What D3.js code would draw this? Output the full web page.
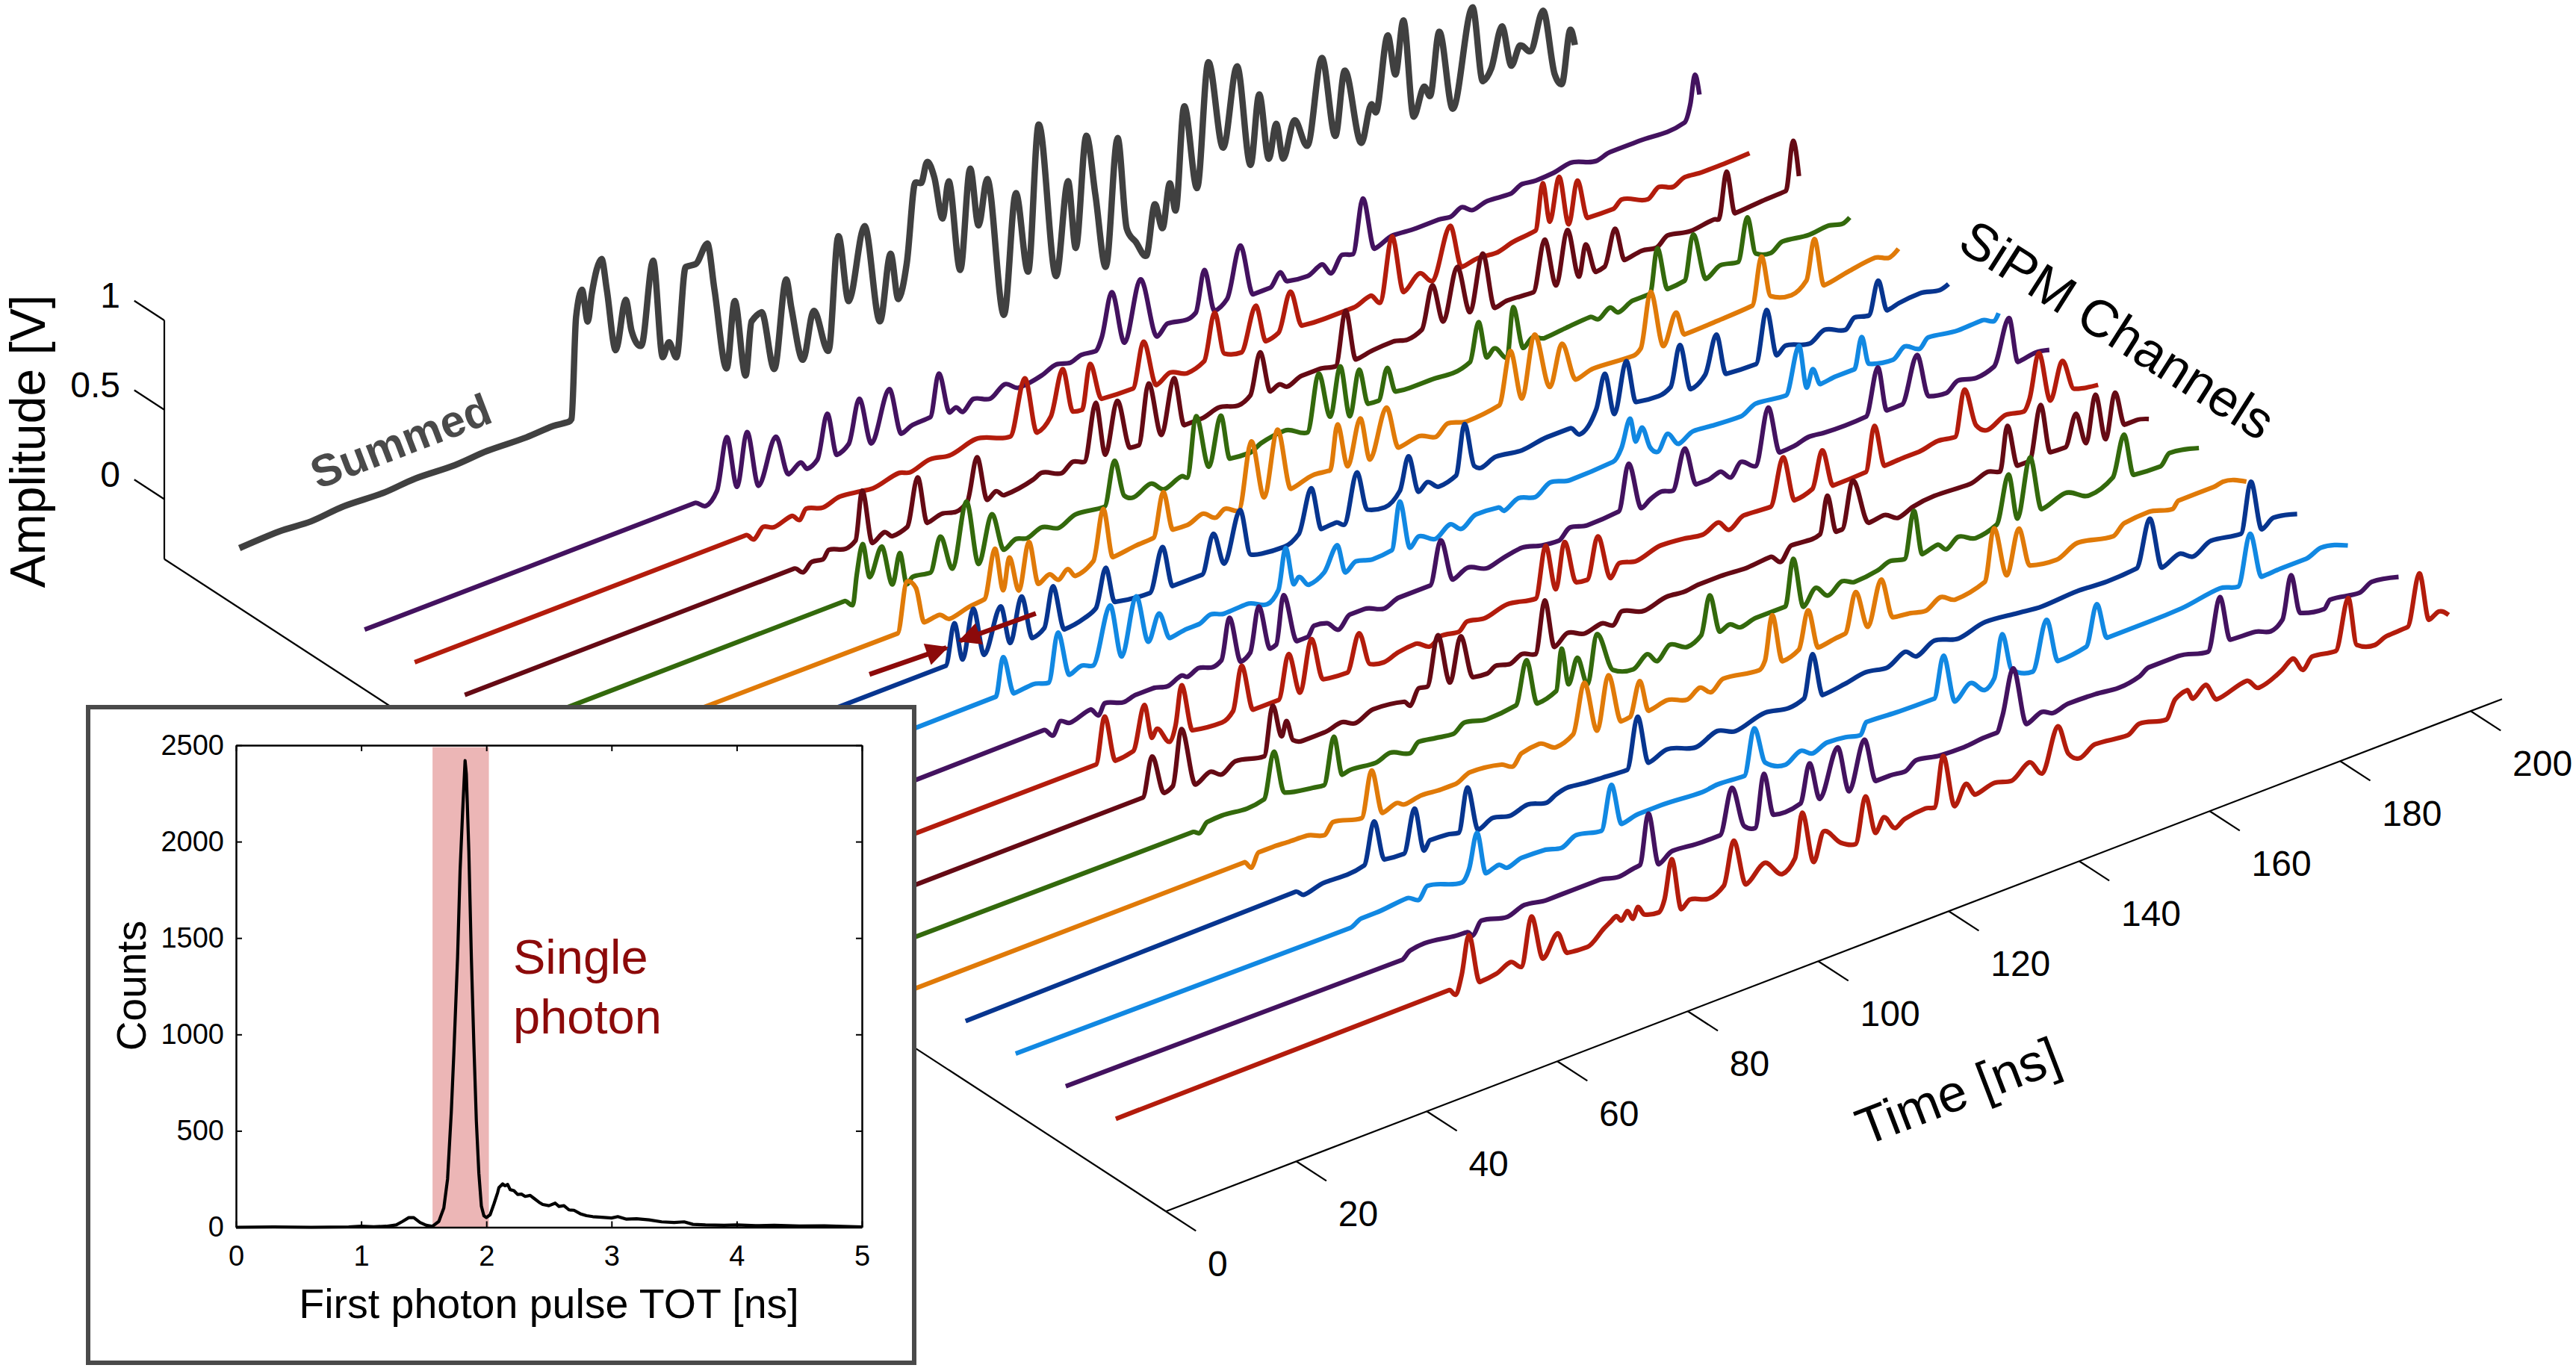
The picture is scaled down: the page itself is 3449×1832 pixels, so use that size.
<!DOCTYPE html>
<html>
<head>
<meta charset="utf-8">
<title>SiPM channel waveforms</title>
<script src="https://cdn.jsdelivr.net/npm/d3@7/dist/d3.min.js"></script>
<style>
  html, body { margin: 0; padding: 0; background: #fff; }
  svg { display: block; }
  text { font-family: "Liberation Sans", Arial, sans-serif; fill: #000; }
</style>
</head>
<body>
<svg id="chart" width="3449" height="1832"></svg>
<script>
// Waveform knots are [time in ns, amplitude in V].
const summed = [[0,0],[6,.008],[11,-.004],[16,.01],[22,0],[27,.012],[33,.002],[38,.012],[44,.004],[48,.01],[50.5,0],[50.9,.01],[51.6,.57],[52.5,.71],[53.4,.52],[54,.665],[55.5,.84],[56.3,.66],[57.7,.3],[59.2,.56],[60.1,.375],[61.6,.27],[63.4,.72],[64.9,.16],[65.8,.23],[67,.13],[68.4,.615],[69.9,.61],[71.7,.7],[72.8,.43],[74.7,-.04],[75.9,.32],[77.6,-.12],[78.5,.17],[80,.2],[82,-.145],[83.8,.33],[84.6,.16],[86.4,-.155],[88,.095],[90.3,-.16],[91.8,.46],[93.4,.075],[95.8,.46],[98.2,-.105],[99.8,.25],[101,-.02],[102.3,.165],[103.6,.595],[104.5,.58],[105.4,.685],[106.5,.585],[107.8,.335],[108.7,.53],[110.5,.01],[112,.555],[113.3,.22],[114.6,.46],[117.2,-.335],[119,.32],[120.9,-.145],[122.5,.655],[125.2,-.23],[127,.275],[128.2,-.115],[129.8,.49],[131.2,.14],[132.8,-.285],[134.6,.41],[136,-.115],[137.4,-.21],[139,-.31],[140.3,-.04],[141.5,-.19],[142.6,.045],[143.5,-.12],[144.8,.445],[146.8,-.04],[148.5,.64],[150.8,.13],[152.9,.555],[155,-.025],[156.3,.35],[157.8,-.03],[158.9,.15],[160,-.06],[161.7,.13],[163.7,-.04],[165.9,.42],[168,-.045],[169.4,.3],[172,-.14],[173.5,.055],[174.2,0],[176,.405],[177.2,.17],[178.4,.455],[180,-.105],[181.6,.04],[182.5,-.025],[183.9,.315],[186,-.145],[189,.38],[190.6,-.055],[191.9,0],[193.5,.21],[195,-.03],[196.3,.065],[197.9,.01],[199.8,.21],[201.6,-.17],[202.7,-.24],[204,.045],[204.7,-.05]];
const ch01 = [[0,0],[50.6,0],[52.3,-.04],[54,.02],[55.5,.3],[57.1,0],[58.6,.285],[60.4,-.04],[63,.197],[65,-.04],[66.8,0],[67.9,-.05],[69.4,-.02],[70.9,.215],[72.4,-.035],[74.2,0],[75.8,.23],[77.7,-.045],[80.4,.22],[82.3,-.055],[84,-.03],[86.7,-.025],[88,.2],[89.7,-.04],[90.6,-.025],[91.7,-.065],[93.3,-.015],[95.9,-.05],[98.1,0],[100.3,-.05],[103.8,-.03],[106,0],[108.2,-.02],[109.9,0],[112,-.01],[113,.055],[114.5,.285],[116.5,-.025],[118.9,.295],[121.5,-.06],[123.1,-.01],[126.1,-.03],[127.4,-.01],[128.7,.21],[130.3,-.04],[132.2,0],[134.2,.27],[136.2,-.03],[138.8,-.03],[140.3,.035],[141.4,-.03],[144.5,-.045],[146.7,-.01],[148.2,-.08],[149.8,0],[151.5,-.02],[153,.27],[154.8,-.035],[157.6,0],[161.2,-.01],[164.6,-.01],[166.4,-.02],[168.1,.01],[169.9,-.03],[172.1,-.01],[175.6,-.02],[177.4,.01],[179.5,0],[182.2,.005],[184.8,.025],[188.8,-.02],[190.9,0],[193.6,0],[195.3,0],[199.7,-.01],[202.3,.005],[203.2,.095],[203.9,.25],[204.6,.13]];
const ch02 = [[0,0],[50.8,0],[52,-.04],[53.4,.01],[55.1,-.015],[57.8,.01],[59,-.03],[60,.02],[62.6,-.01],[65.2,.015],[68.3,0],[70.2,-.01],[74.2,.02],[75.9,0],[79,.03],[82,.01],[86,.045],[91.3,-.015],[93.5,.28],[95.4,-.05],[97.5,.01],[99.3,.25],[100.9,-.01],[102.3,-.02],[103.5,.22],[105.3,0],[110.1,-.01],[111.7,.23],[113.7,-.04],[115.8,0],[118.4,-.04],[121,-.01],[122.6,.24],[124.1,-.01],[126.7,-.04],[128.9,.19],[130.5,-.03],[132.4,-.01],[134.2,.195],[136,-.02],[139.5,-.03],[143.9,-.03],[146.5,0],[148,-.06],[149.8,.285],[151.6,-.05],[154,.02],[156,-.05],[158.7,.22],[160.5,-.035],[163,-.02],[165.7,-.03],[168.3,-.005],[171.8,.01],[172.9,.26],[174,.03],[175.4,.26],[176.9,-.025],[178.2,.2],[179.8,-.03],[183.7,-.035],[185,0],[189,-.055],[190.7,-.01],[192.9,-.04],[194.7,-.01],[197.4,-.02],[199.8,-.02],[204.6,-.015]];
const ch03 = [[0,0],[50.5,0],[51.9,-.04],[53.2,0],[54.9,-.01],[55.8,.03],[58.4,0],[59.9,.025],[60.9,.29],[62.5,-.025],[64.3,.01],[65.6,-.03],[67.8,-.01],[69.4,.245],[70.9,-.03],[73.1,-.01],[75.3,-.03],[77,0],[78.5,.23],[80.1,-.03],[81.4,0],[82.7,-.04],[87.1,-.015],[88.4,.005],[91.5,-.04],[93.2,0],[95,-.025],[96.7,.28],[98.2,-.03],[100,.245],[102,-.045],[103.3,-.05],[104.8,.275],[106.8,-.04],[108.7,.25],[110.3,-.035],[112.9,-.035],[115.6,-.01],[118.6,-.04],[120.4,-.01],[121.9,.21],[123.5,-.03],[124.8,-.01],[126.1,-.04],[128.3,-.01],[131,-.01],[133.5,-.03],[135,.26],[136.6,-.035],[139.2,-.02],[142.3,-.015],[144.5,-.035],[146.7,-.01],[148.3,.215],[150,-.01],[152.1,.265],[154.1,-.015],[156,.285],[157.9,-.045],[159.8,-.03],[163.8,-.04],[165.5,.23],[167.3,-.05],[169,.235],[170.8,-.05],[171.8,.115],[173.4,-.06],[174.7,-.05],[176.3,.14],[177.8,-.055],[180.4,-.04],[182.6,-.055],[184.4,-.01],[187.9,-.035],[191.5,-.02],[192.2,-.03],[193.4,.22],[194.7,-.03],[198.8,-.02],[202.5,-.015],[203.6,.25],[204.5,.04]];
const ch04 = [[0,0],[50.5,0],[51.8,-.04],[52.4,.12],[53.3,.28],[54.4,.08],[56.2,.225],[57.9,-.01],[59,.15],[60.1,-.04],[61,-.01],[63.7,-.025],[65.2,.155],[67.1,-.05],[69.2,.295],[71.1,-.08],[73.1,.17],[75,-.055],[76.8,-.02],[78.5,-.04],[80.7,-.01],[83.4,-.05],[86,-.01],[90.4,-.03],[91.9,.205],[93.4,-.01],[94.8,-.04],[97.4,0],[99.6,-.06],[102.2,-.025],[103.1,-.045],[104.4,.28],[106.4,-.03],[108.2,.23],[109.6,-.03],[112.7,-.04],[114.4,-.01],[118,.01],[121.5,-.05],[123.2,.255],[125,-.01],[126.5,.25],[128,-.05],[129.4,.19],[130.8,-.02],[132.4,-.025],[133.7,.14],[135,-.01],[137.2,-.02],[140.3,-.02],[143.8,-.03],[146.4,-.005],[147.7,.2],[149,-.015],[150.1,.02],[152.1,-.06],[153,.21],[154.6,-.04],[156,0],[157.8,-.03],[160.9,-.02],[164.8,-.01],[166.1,-.04],[167.8,0],[169.2,-.045],[171.4,-.01],[174,-.01],[175.1,.23],[176.7,-.02],[179.3,-.01],[180.6,.23],[182.6,-.045],[184.8,0],[187.5,-.02],[188.9,.21],[190.2,-.01],[192.5,-.04],[194.3,0],[198.4,-.02],[201.2,-.01],[203.5,-.03],[204.6,-.01]];
const ch05 = [[0,0],[51,-.005],[52.4,.265],[53.8,.21],[55.1,0],[57.3,.01],[59,-.035],[61.9,-.01],[64.3,0],[65.9,.26],[67.2,.01],[68.1,.18],[69.6,-.025],[71.1,.225],[72.6,-.03],[74.2,0],[75.7,-.05],[77,-.01],[78.3,-.065],[81,-.02],[82.5,.25],[84,-.04],[87.5,-.025],[90.2,-.02],[91.7,.215],[93.2,-.015],[95.4,-.02],[97.7,.01],[99.8,-.04],[101.1,-.01],[103.3,-.05],[105.2,.31],[107.2,-.03],[109.2,.32],[111.3,-.04],[114.7,-.01],[117.3,-.02],[118.4,.22],[120,-.035],[121.9,.205],[123.4,-.045],[125.9,.21],[127.8,-.04],[130.9,-.02],[133.5,-.06],[135.3,-.01],[138.3,-.04],[143.2,-.02],[144.9,.26],[146.7,-.03],[148.6,.3],[151,-.025],[152.8,.19],[155,-.04],[157.6,-.015],[163.8,-.03],[164.9,-.005],[166.4,.29],[168.4,-.04],[170.3,.12],[171.6,-.02],[176.6,-.015],[182,-.005],[183.4,.25],[184.8,.01],[188,-.03],[190.3,.02],[191.5,.235],[193,-.045],[196.7,-.02],[200.8,0],[203,-.03],[204.4,0]];
const ch06 = [[0,0],[50.7,0],[52,.22],[53.3,0],[54.9,.26],[56.6,-.02],[59.1,.215],[60.6,-.01],[62.3,.225],[64,-.03],[65.8,0],[67.1,.215],[68.9,-.05],[72,-.03],[73.7,0],[75.2,.205],[76.6,-.005],[82,-.03],[83.9,.2],[85.5,-.04],[90,-.04],[91.7,.165],[93.4,-.025],[95.8,.24],[97.4,-.03],[99.1,-.05],[102.6,-.06],[104.8,-.02],[106.7,.21],[108.3,-.04],[110.5,-.035],[111.8,-.065],[113.7,.2],[115.3,-.03],[118,-.055],[120.3,.005],[121.6,.18],[123.2,-.04],[124.5,-.005],[126.3,-.055],[128.9,-.03],[130.2,.24],[131.7,-.015],[132.8,-.04],[135,-.01],[139,-.03],[142.9,-.01],[146.4,-.01],[147.9,-.065],[150.4,.04],[151.7,.22],[153.2,-.025],[155,.245],[156.5,-.005],[160,-.02],[161.8,.005],[163.2,.22],[164.9,-.05],[167.1,0],[168.8,.2],[170.3,-.04],[174.9,-.05],[176.5,.23],[178.1,-.045],[179.4,-.01],[183.1,-.05],[185.4,-.005],[188.6,-.05],[190,0],[192.2,-.02],[193.6,.155],[195,-.03],[196.8,-.015],[200,-.005],[203.1,-.03],[204.4,-.015]];
const ch07 = [[0,0],[50.7,.01],[51.8,.215],[53.5,-.01],[56.4,0],[58.8,-.025],[60.2,.235],[62,-.025],[63.8,0],[65.6,-.025],[68.2,.275],[70,-.035],[72.2,.27],[74.1,-.01],[75.7,.125],[77.4,-.035],[80,-.02],[81.8,-.02],[83.6,.01],[85.7,-.015],[89.2,-.01],[92.3,-.055],[94,0],[95.1,.22],[96.4,0],[97.1,.03],[98.7,-.035],[101,0],[103,.125],[104.3,-.045],[105.9,-.005],[108.5,-.03],[111.4,-.02],[112.6,.235],[114.2,-.045],[115.5,0],[118.1,-.05],[120.3,0],[122.1,-.05],[124.3,0],[127.8,-.01],[128.6,-.04],[130.8,0],[133.4,-.03],[135.7,.02],[138.7,-.01],[145.3,0],[146.6,.06],[147.9,.205],[148.8,.065],[149.7,.13],[151,0],[152.2,-.04],[153.6,.04],[155.4,-.04],[157.6,0],[160.4,-.01],[164.9,-.02],[167.2,.02],[171.8,0],[173.8,.25],[175,0],[175.9,.09],[177.1,-.01],[179.5,0],[182.3,0],[183.4,.165],[184.5,0],[188.2,-.03],[190,.02],[192.3,-.025],[193.6,.02],[198.2,-.005],[201.9,0],[203.7,-.03],[204.4,.005]];
const ch08 = [[0,0],[50.4,.01],[51.8,-.04],[52.9,.025],[54.4,-.005],[57.5,.025],[58.8,-.025],[59.7,.03],[62.7,-.005],[64.5,.01],[67.1,.01],[69.3,-.01],[71.5,.02],[72.4,0],[74.1,.025],[76.3,0],[77.6,.02],[78.8,.24],[80.6,-.03],[82,0],[83.3,.24],[85.1,-.02],[86,-.01],[87.1,.25],[89.2,-.035],[90.8,-.035],[91.8,.015],[93.8,0],[95.6,-.06],[97.3,0],[99.5,0],[102.6,-.04],[104.8,-.01],[109.6,-.01],[111.2,.22],[113.1,-.025],[115.3,.01],[118.4,-.035],[120.5,-.015],[123.6,.005],[126.7,-.025],[129.3,-.035],[131,.015],[133.7,-.01],[138.5,0],[140,.245],[142,-.03],[143.3,0],[145,.02],[146.8,0],[148.6,.21],[150.4,-.015],[152.2,-.015],[154,.005],[155.7,-.05],[157.2,.015],[159.5,-.04],[161.4,.26],[163.2,-.015],[165.4,-.01],[167.7,.01],[170,0],[173.2,-.005],[176.4,0],[178.2,.25],[179.6,-.01],[181.9,-.01],[184.2,.235],[186,-.02],[188.7,-.04],[190.5,.005],[193.3,-.02],[196,.005],[198.3,.245],[199.7,-.02],[202.4,-.005],[204.5,-.02]];
const ch09 = [[0,0],[50.7,-.005],[52,.245],[53.7,-.025],[56.4,-.01],[58.1,.225],[59.3,.025],[60,.065],[62,-.035],[62.9,.045],[63.8,.255],[65.5,-.02],[70,-.04],[71.7,0],[73,.235],[74.8,-.035],[78.7,-.035],[80.2,.2],[82,-.04],[83.7,.235],[85.5,-.015],[89.2,-.03],[91,.165],[92.7,-.03],[94.8,-.05],[97,-.025],[99.7,-.015],[101.9,-.06],[103.7,-.025],[106.3,-.04],[107.6,0],[110.2,-.02],[113.7,.01],[118.1,-.02],[119.6,.255],[121.2,-.01],[122.5,.235],[124.3,-.015],[126,-.025],[127.6,.195],[129.6,-.065],[130.9,0],[133.5,-.025],[137.3,.01],[140.5,0],[143.7,-.02],[146,.015],[147.8,-.05],[150,0],[154.1,-.01],[156,.24],[157.8,-.025],[160.5,0],[162,.195],[163.7,-.025],[168.7,-.02],[170,.22],[171.6,-.025],[174.7,-.02],[176.9,-.02],[179.7,0],[182.4,-.015],[183.8,.23],[185.6,.005],[187.4,-.045],[190.2,0],[192.9,-.02],[193.8,.04],[195.2,.275],[197,-.015],[198.8,.18],[200.6,0],[204.3,-.03]];
const ch10 = [[0,0],[50.2,0],[51.6,.21],[53.5,-.02],[54.8,0],[56.1,.3],[58.3,-.04],[60.5,0],[62.3,-.04],[64.4,.005],[68.8,-.03],[70.1,.235],[71.5,.045],[72.2,.12],[73.2,0],[74.7,-.025],[78,-.025],[80.6,-.005],[82.8,-.04],[85.5,0],[90.3,-.025],[91.2,-.06],[92.5,.02],[93.8,.01],[95.4,.275],[97.3,-.015],[98.9,.22],[100.8,-.035],[103,-.045],[104.3,-.02],[106.5,-.04],[108.3,-.01],[110.4,-.04],[111.8,.24],[113.3,-.04],[115.3,.01],[118,-.03],[120.5,-.01],[122.3,-.045],[123.6,.015],[127,-.03],[130.6,0],[133.2,-.01],[135.5,0],[138.7,0],[142.8,-.01],[146.4,0],[148,-.05],[149.6,.02],[152.8,.01],[154,.02],[155.1,.22],[156.5,0],[157.4,0],[159,.25],[161.5,-.02],[163.8,-.01],[166,-.055],[168.3,-.025],[171.5,-.01],[177,-.02],[179.7,.01],[181.6,-.015],[182.7,.225],[184.3,-.02],[186.1,-.02],[187.8,.27],[189.3,-.015],[191.6,-.02],[193.2,.145],[194.8,-.04],[196.2,.21],[197.8,-.06],[199.2,.18],[200.7,-.02],[202.5,-.02],[204.4,-.04]];
const ch11 = [[0,0],[50.2,-.01],[51.2,-.03],[52.4,.015],[54.6,.02],[58.5,.005],[61.1,.02],[62.6,.265],[64.2,.015],[68.6,-.02],[70.3,-.03],[71.8,.22],[73.1,-.01],[74.3,0],[78.2,-.015],[80.4,.01],[83.5,-.035],[84.8,.01],[87.4,-.005],[90.1,-.02],[91.8,.02],[95.3,-.01],[99.7,.005],[101.3,.235],[103,-.03],[105.9,0],[106.7,.225],[107.8,.01],[109.1,.14],[110.7,-.03],[112.1,.23],[114.6,-.005],[117.7,-.045],[119.8,.01],[121.4,-.05],[123.3,.015],[126,-.035],[128.1,0],[129.4,.205],[131,-.02],[132.4,0],[134.2,-.04],[136.5,-.02],[139.2,-.02],[141,-.02],[142.2,.23],[143.8,-.06],[145.6,.02],[147.6,-.05],[149.7,0],[151.6,-.03],[155.2,-.015],[157,.01],[159.3,-.01],[160.7,.24],[162,-.02],[164.3,0],[165.7,-.045],[167.5,0],[170.2,-.045],[173.4,-.015],[175.2,.24],[176.6,-.025],[178.5,.29],[180.3,-.025],[183.9,.015],[187.6,-.05],[191.2,0],[192.9,.215],[194.4,-.03],[198.5,-.04],[199.9,.015],[204.4,-.02]];
const ch12 = [[0,0],[50.4,0],[51.5,-.045],[52.6,.025],[54.8,.025],[57,.02],[60,.015],[62.7,-.02],[64,.035],[68.4,-.005],[69.9,.24],[71.6,-.02],[73.7,.005],[75,-.02],[77.6,-.005],[80.6,-.015],[82.8,-.015],[85,.02],[89.8,-.005],[91.6,-.04],[92.9,.015],[95.6,.03],[98.2,-.025],[100.8,.01],[102.5,.275],[104.5,-.02],[106.2,.265],[108.2,-.02],[109.5,-.015],[111,.165],[112.4,-.02],[115.2,0],[118.3,-.04],[120.2,0],[122,-.05],[123.8,0],[129.3,-.03],[130.2,.01],[131.3,.25],[132.9,-.03],[135.4,0],[136.8,.2],[138.4,-.03],[141.1,-.015],[142.5,-.01],[144.1,.2],[146,-.02],[148,.215],[149.8,-.02],[152.5,-.035],[154.8,-.055],[157.1,-.01],[159.4,-.055],[163.9,-.02],[165.3,.26],[167.3,-.03],[169.1,.205],[170.8,-.025],[174.9,-.05],[178.1,0],[183.6,-.04],[185.3,.01],[189,.02],[192.7,-.015],[193.6,.02],[199,.02],[200.4,.03],[204,-.02]];
const ch13 = [[0,0],[50.6,.015],[51.9,-.02],[55,.005],[58.5,0],[61.1,.015],[62.6,.24],[64.2,.005],[67.2,-.005],[68.8,.225],[70.3,-.03],[71.2,.015],[73.8,.01],[75.6,-.005],[76.9,.23],[78.6,-.03],[80.8,.005],[83.5,-.02],[86.1,.005],[89.1,-.025],[90.5,0],[92.2,.015],[94.4,.005],[97.5,-.005],[101.4,-.015],[103,.26],[104.7,-.02],[107.5,.015],[112,-.035],[115.2,.01],[118,-.03],[122.5,.01],[126.2,-.015],[128.5,.005],[129.8,.235],[131.4,-.015],[134.8,0],[138,.02],[141.2,0],[144,.05],[145.8,0],[148.5,.05],[152.2,.01],[156.3,.045],[161.3,.025],[165,.01],[170.4,.02],[175,.01],[179.5,.02],[181.5,.27],[183.4,-.03],[186,.01],[188.2,-.035],[190.9,.015],[195.5,-.01],[197,.26],[198.7,-.03],[200.5,.01],[204.1,-.02]];
const ch14 = [[0,0],[51.3,-.015],[53,.015],[55.2,.015],[60,.03],[61.8,-.005],[63.1,.055],[68.4,0],[69.5,.06],[70.7,.245],[72.1,0],[74,.02],[75.4,-.015],[77.6,.01],[81,.005],[83.7,-.02],[85.9,.02],[89.8,-.01],[91.3,.225],[92.9,-.015],[95.5,.005],[98.9,.005],[105.3,-.01],[107.6,0],[111.7,-.01],[113.2,.235],[114.9,.02],[118,-.035],[120.3,.01],[122.2,-.03],[124.4,0],[127.2,-.01],[129.5,-.03],[130.4,.03],[134.9,.02],[140.8,.015],[142.2,.235],[144,-.045],[146.3,.025],[148.6,-.045],[150,0],[151.2,.23],[152.7,.01],[155.9,-.045],[158,.215],[159.8,-.04],[164.1,-.02],[165.7,.195],[167.3,-.015],[173.7,-.015],[178.7,-.01],[184.6,.02],[187.4,-.01],[189.2,.26],[191,-.005],[194.2,0],[197.8,0],[200.1,.03],[204.2,-.015]];
const ch15 = [[0,0],[51.5,-.015],[52.8,.02],[55,.03],[59.8,.005],[61.6,0],[62.4,-.03],[63.7,.035],[67.7,0],[70.3,.03],[73.8,.01],[77.8,.01],[81.7,.01],[84.8,-.015],[87,0],[88,.005],[89.3,.275],[90.9,-.03],[93,.015],[97.6,0],[100.3,0],[102.1,.24],[104,0],[105.7,-.035],[107,.25],[108.5,0],[110.3,-.01],[112.6,.005],[114,.21],[115.6,-.01],[118.3,.24],[120.1,-.03],[122.4,.225],[124.2,-.03],[126.3,-.03],[128.6,-.04],[130.4,0],[134,-.025],[137.7,-.03],[140.9,-.02],[142.7,-.02],[143.6,.065],[145.2,.305],[147.3,-.035],[149.6,0],[151.4,-.03],[153.7,-.01],[157.8,-.015],[161.4,-.03],[164.6,-.01],[166,.02],[170.5,.02],[175.1,-.02],[176.9,.26],[178.5,0],[182.4,-.01],[184.7,-.04],[186.5,0],[187.8,.23],[189.2,0],[192.9,-.03],[193.8,.01],[198.3,-.015],[200.2,.02],[204.3,-.01]];
const ch16 = [[0,0],[51.1,.005],[52.1,-.035],[53,.06],[54.1,.27],[55.8,-.015],[58.3,-.005],[60.5,.03],[62.2,-.02],[63.7,.24],[65.5,-.02],[67.7,.09],[69.2,-.04],[72.3,-.05],[74.9,.02],[75.8,.04],[76.7,.06],[77.5,.025],[78.4,.065],[79.3,.01],[80,.065],[81,.01],[83.2,-.01],[84.1,.05],[85.2,.26],[86.7,-.04],[88,-.005],[90.9,-.04],[93.2,0],[94.7,.23],[96.6,-.04],[99.4,.04],[102.2,-.06],[104.1,0],[105.2,.24],[107,-.06],[108.5,.09],[111.1,-.01],[113.4,-.05],[114.9,.195],[116.5,-.03],[117.7,.04],[119.5,-.045],[120.9,-.015],[124.1,0],[125.5,-.015],[126.8,.255],[128.6,-.05],[130.3,.05],[131.8,-.03],[134.6,-.005],[137.3,-.03],[140,.035],[142,-.055],[144.4,.175],[146,0],[147.8,-.05],[150.1,-.005],[155.1,-.025],[156.9,.015],[161,-.02],[162.4,.075],[164.2,.1],[165.1,.04],[167,.09],[168.8,-.015],[173.3,.025],[175.2,-.04],[178.8,.01],[180.4,.05],[182,-.035],[183.4,.02],[187,0],[188.9,.27],[190.2,-.01],[193,-.05],[194.8,-.025],[198,-.02],[199.8,.255],[201.3,-.025],[202.8,0],[204.3,-.04]];

const waveforms = [ch01, ch02, ch03, ch04, ch05, ch06, ch07, ch08, ch09, ch10, ch11, ch12, ch13, ch14, ch15, ch16];
const waveformColors = ["#43125f", "#b31c0c", "#650a14", "#33690c", "#e07a08", "#07358f", "#1188e2", "#43125f", "#b31c0c", "#650a14", "#33690c", "#e07a08", "#07358f", "#1188e2", "#43125f", "#b31c0c"];
const firstChannelDepth = 4;
const summedDepth = 1.5;
const timeTicks = [0, 20, 40, 60, 80, 100, 120, 140, 160, 180, 200];
const ampTicks = [0, 0.5, 1];
const ampTickLabels = ["0", "0.5", "1"];
const floorAmp = -0.335;

// Highlighted pulse pair on the sixth channel: [time, amplitude] of arrow tail and head.
const arrowDepth = 9;
const arrows = [[[39, .116], [50.8, .10]], [[64.5, .10], [52.9, .11]]];

// Inset histogram of the first-photon time over threshold.
const totBins = [0,.3,.6,.9,1,1.1,1.2,1.28,1.33,1.38,1.42,1.47,1.52,1.57,1.62,1.66,1.69,1.72,1.74,1.77,1.79,1.81,1.83,1.84,1.86,1.88,1.9,1.92,1.94,1.96,1.98,2,2.03,2.06,2.09,2.1,2.13,2.15,2.17,2.19,2.22,2.25,2.28,2.31,2.35,2.38,2.42,2.45,2.5,2.55,2.58,2.62,2.66,2.7,2.75,2.8,2.85,2.92,3,3.05,3.12,3.2,3.3,3.4,3.5,3.58,3.65,3.75,3.9,4,4.15,4.3,4.5,4.7,4.85,5];
const totCounts = [0,2,0,2,5,3,5,12,30,50,50,25,10,5,30,100,250,600,900,1400,1850,2150,2420,2350,1950,1400,950,550,280,110,60,50,65,120,180,205,225,215,222,195,190,170,172,160,165,150,130,118,112,125,108,112,90,88,70,60,55,52,48,55,42,44,38,28,25,28,15,12,10,12,8,10,6,7,4,2];
const singlePhotonBand = [1.57, 2.02];
const countTicks = [0, 500, 1000, 1500, 2000, 2500];

const svg = d3.select("#chart");

// Oblique projection: time and channel depth shear the plane, amplitude lifts it.
const xOfTime = d3.scaleLinear().domain([0, 200]).range([0, 1747]);
const yOfTime = d3.scaleLinear().domain([0, 200]).range([0, -670]);
const xOfDepth = d3.scaleLinear().domain([0, 20]).range([220, 1561]);
const yOfDepth = d3.scaleLinear().domain([0, 20]).range([668.5, 1542]);
const yOfAmp = d3.scaleLinear().domain([0, 1]).range([0, -239.5]);
const project = (t, depth, amp) => [xOfTime(t) + xOfDepth(depth), yOfTime(t) + yOfDepth(depth) + yOfAmp(amp)];
const timeShear = (yOfTime(1) - yOfTime(0)) / (xOfTime(1) - xOfTime(0));

const axisLine = (a, b) => svg.append("line")
  .attr("x1", a[0]).attr("y1", a[1]).attr("x2", b[0]).attr("y2", b[1])
  .attr("stroke", "#000").attr("stroke-width", 2.2);

// Three-dimensional frame
axisLine(project(0, 0, 1), project(0, 0, floorAmp));
axisLine(project(0, 0, floorAmp), project(0, 20, floorAmp));
axisLine(project(0, 20, floorAmp), project(204.8, 20, floorAmp));

ampTicks.forEach((v, i) => {
  const p = project(0, 0, v);
  axisLine(p, project(0, -0.6, v));
  svg.append("text").attr("x", p[0] - 59).attr("y", p[1] - 17)
    .attr("text-anchor", "end").attr("font-size", 48).text(ampTickLabels[i]);
});
timeTicks.forEach(t => {
  const p = project(t, 20, floorAmp);
  axisLine(p, project(t, 20.6, floorAmp));
  svg.append("text").attr("x", p[0] + 56).attr("y", p[1] + 87)
    .attr("font-size", 48).text(t);
});

const rotatedLabel = (text, x, y, angle, size, extra) => {
  const el = svg.append("text").attr("text-anchor", "middle")
    .attr("transform", `translate(${x},${y}) rotate(${angle})`)
    .attr("font-size", size).text(text);
  if (extra) extra(el);
};
rotatedLabel("Amplitude [V]", 60, 591, -90, 66);
rotatedLabel("Time [ns]", 2630, 1484, -21, 70);
rotatedLabel("SiPM Channels", 2822, 462, 32.5, 70);
rotatedLabel("Summed", 544, 610, -21, 60, el => el.attr("font-weight", "bold").style("fill", "#4a4a4a"));

// Waveforms, back to front. Each curve is smoothed in its own time/amplitude
// plane and then sheared into place, so the flat lead-in stays straight.
const waveLine = d3.line()
  .x(d => xOfTime(d[0]))
  .y(d => yOfAmp(d[1]))
  .curve(d3.curveMonotoneX);

const drawWave = (wave, depth, colour, width) => {
  svg.append("path").datum(wave)
    .attr("d", waveLine)
    .attr("transform", `matrix(1,${timeShear},0,1,${xOfDepth(depth)},${yOfDepth(depth)})`)
    .attr("vector-effect", "non-scaling-stroke")
    .attr("fill", "none").attr("stroke", colour).attr("stroke-width", width).attr("stroke-linejoin", "round");
};

drawWave(summed, summedDepth, "#404040", 8.5);
waveforms.forEach((wave, i) => drawWave(wave, firstChannelDepth + i, waveformColors[i], 6.2));

// Arrows marking the pulse pair
const defs = svg.append("defs");
defs.append("marker").attr("id", "pulseArrow")
  .attr("viewBox", "0 0 10 10").attr("refX", 9).attr("refY", 5)
  .attr("markerUnits", "userSpaceOnUse").attr("markerWidth", 34).attr("markerHeight", 30)
  .attr("orient", "auto")
  .append("path").attr("d", "M0,0L10,5L0,10Z").attr("fill", "#8c0a0a");
arrows.forEach(a => {
  const p = project(a[0][0], arrowDepth, a[0][1]);
  const q = project(a[1][0], arrowDepth, a[1][1]);
  svg.append("line").attr("x1", p[0]).attr("y1", p[1]).attr("x2", q[0]).attr("y2", q[1])
    .attr("stroke", "#8c0a0a").attr("stroke-width", 6.5).attr("marker-end", "url(#pulseArrow)");
});

// Inset panel
const inset = svg.append("g");
inset.append("rect").attr("x", 118).attr("y", 947).attr("width", 1106).attr("height", 878)
  .attr("fill", "#fff").attr("stroke", "#4a4a4a").attr("stroke-width", 6);

const totX = d3.scaleLinear().domain([0, 5]).range([316, 1154]);
const countY = d3.scaleLinear().domain([0, 2500]).range([1643.5, 998]);

inset.append("rect")
  .attr("x", totX(singlePhotonBand[0])).attr("y", countY(2490))
  .attr("width", totX(singlePhotonBand[1]) - totX(singlePhotonBand[0]))
  .attr("height", countY(0) - countY(2490))
  .attr("fill", "#ecb6b6");

const styleAxis = g => {
  g.selectAll("path").attr("stroke", "#000").attr("stroke-width", 2.5);
  g.selectAll("line").attr("stroke", "#000").attr("stroke-width", 2);
  g.selectAll("text").attr("font-size", 38).attr("font-family", '"Liberation Sans", Arial, sans-serif').style("fill", "#000");
};
const plainInt = d3.format("d");
inset.append("g").attr("transform", `translate(0,${countY(0)})`)
  .call(d3.axisBottom(totX).ticks(5).tickFormat(plainInt).tickSize(-8).tickSizeOuter(0).tickPadding(25)).call(styleAxis);
inset.append("g").attr("transform", `translate(0,${countY(2500)})`)
  .call(d3.axisTop(totX).ticks(5).tickFormat("").tickSize(-8).tickSizeOuter(0)).call(styleAxis);
inset.append("g").attr("transform", `translate(${totX(0)},0)`)
  .call(d3.axisLeft(countY).tickValues(countTicks).tickFormat(plainInt).tickSize(-8).tickSizeOuter(0).tickPadding(16)).call(styleAxis);
inset.append("g").attr("transform", `translate(${totX(5)},0)`)
  .call(d3.axisRight(countY).tickValues(countTicks).tickFormat("").tickSize(-8).tickSizeOuter(0)).call(styleAxis);

inset.append("path").datum(d3.zip(totBins, totCounts))
  .attr("d", d3.line().x(d => totX(d[0])).y(d => countY(d[1])))
  .attr("fill", "none").attr("stroke", "#000").attr("stroke-width", 4.2).attr("stroke-linejoin", "round");

inset.append("text").attr("x", 735).attr("y", 1765).attr("text-anchor", "middle").attr("font-size", 55.5).text("First photon pulse TOT [ns]");
inset.append("text").attr("transform", "translate(195,1320) rotate(-90)").attr("text-anchor", "middle").attr("font-size", 55).text("Counts");
inset.append("text").attr("x", 687).attr("y", 1304).attr("font-size", 65).style("fill", "#8c0a0a").text("Single");
inset.append("text").attr("x", 687).attr("y", 1384).attr("font-size", 65).style("fill", "#8c0a0a").text("photon");
</script>
</body>
</html>
